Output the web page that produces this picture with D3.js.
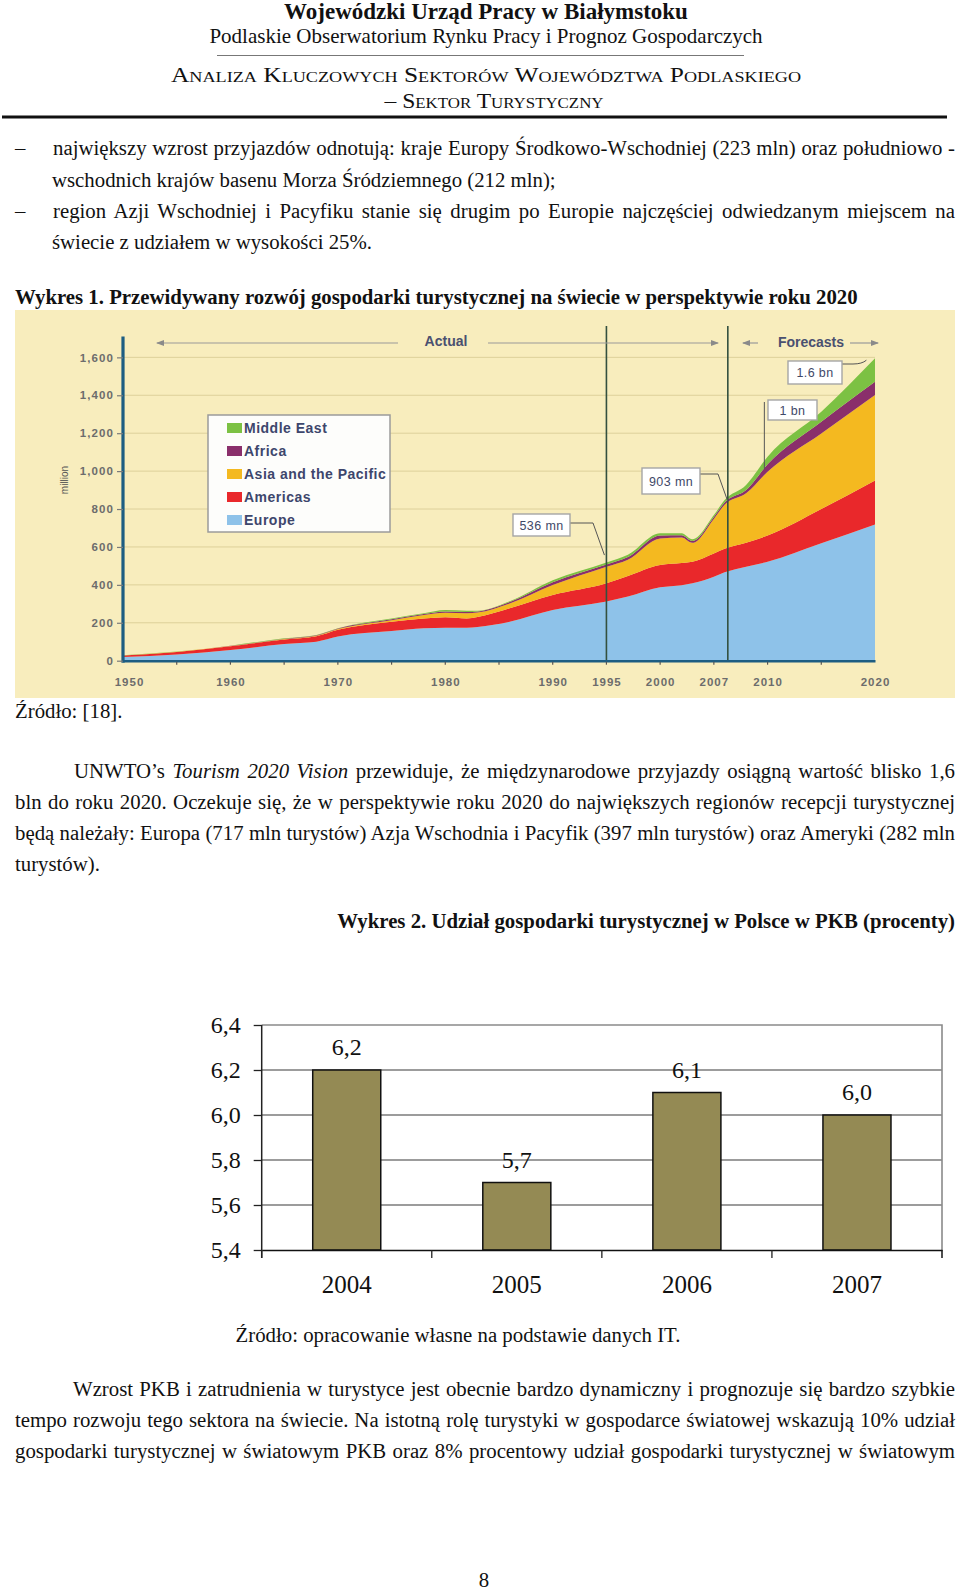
<!DOCTYPE html>
<html>
<head>
<meta charset="utf-8">
<script src="https://cdn.jsdelivr.net/npm/d3@7"></script>
<style>
  body { margin: 0; background: #fff; }
  svg { display: block; }
  .serif { font-family: "Liberation Serif", "Times New Roman", serif; fill: #111; }
  .sans { font-family: "Liberation Sans", Arial, sans-serif; }
</style>
</head>
<body>
<svg id="page" width="960" height="1593"></svg>
<script>
// ---------------- chart 1 data (million arrivals) ----------------
const regions = ["Europe", "Americas", "Asia and the Pacific", "Africa", "Middle East"];
const years       = [1950, 1955, 1960, 1965, 1968, 1970, 1975, 1978, 1980, 1982, 1983, 1986, 1990, 1995, 1997, 2000, 2002, 2003, 2005, 2006, 2008, 2010, 2015, 2020];
const europe      = [19,   33,   56,   88,   100,  127,  156,  171,  174,  174,  178,  206,  267,  312,  338,  387,  398,  408,  443,  466,  496,  522,  619,  718];
const americas    = [8,    13,   20,   24,   29,   36,   50,   52,   55,   49,   52,   70,   79,   96,   109,  118,  117,  114,  123,  124,  126,  138,  181,  232];
const asiaPacific = [0.3,  0.6,  1,    2,    3,    4,    8,    18,   24,   27,   24,   26,   53,   88,   86,   140,  135,  100,  182,  233,  261,  337,  399,  451];
const africa      = [0.5,  0.8,  1.5,  2,    2,    2.5,  4,    5,    7,    7,    6,    8,    15,   12,   14,   16,   12,   10,   10,   12,   17,   39,   62,   71];
const middleEast  = [0.3,  0.6,  1,    2,    2,    2,    4,    4,    7,    7,    4,    4,    10,   10,   12,   11,   10,   8,    10,   12,   27,   40,   52,   123];

const yTicks1 = [0, 200, 400, 600, 800, 1000, 1200, 1400, 1600];
const xTickYears = [1950, 1960, 1970, 1980, 1990, 1995, 2000, 2005, 2010, 2020];
const xTickLabels = ["1950", "1960", "1970", "1980", "1990", "1995", "2000", "2007", "2010", "2020"];
const periodYears = [1995, 2006.3];   // vertical separators

// ---------------- chart 2 data (% of GDP) ----------------
const categories = ["2004", "2005", "2006", "2007"];
const shares = [6.2, 5.7, 6.1, 6.0];
const yTicks2 = [5.4, 5.6, 5.8, 6.0, 6.2, 6.4];

const colors = {
  "Europe": "#8ec2e9",
  "Americas": "#e9282b",
  "Asia and the Pacific": "#f4b920",
  "Africa": "#8a2f6b",
  "Middle East": "#7cc143"
};

const page = d3.select("#page");
const BODY = 20.8;

// helper: one line of body text, optionally justified to a width
function line(parts, x, y, o = {}) {
  const t = page.append("text")
    .attr("class", "serif")
    .attr("x", x).attr("y", y)
    .style("font-size", (o.size || BODY) + "px")
    .style("font-weight", o.bold ? "bold" : null)
    .style("font-variant", o.caps ? "small-caps" : null);
  if (o.anchor) t.attr("text-anchor", o.anchor);
  parts.forEach(p => {
    const s = typeof p === "string" ? { t: p } : p;
    t.append("tspan").text(s.t).style("font-style", s.i ? "italic" : null);
  });
  if (o.width) {
    const natural = t.node().getComputedTextLength();
    const spaces = (t.text().match(/ /g) || []).length;
    t.style("word-spacing", ((o.width - natural) / spaces) + "px");
  }
  if (o.fit) t.attr("textLength", o.fit).attr("lengthAdjust", "spacingAndGlyphs");
  return t;
}

// ---------------- header ----------------
line(["Wojewódzki Urząd Pracy w Białymstoku"], 486, 19, { size: 23, bold: true, anchor: "middle" });
line(["Podlaskie Obserwatorium Rynku Pracy i Prognoz Gospodarczych"], 486, 43, { size: 21, anchor: "middle" });
page.append("line").attr("x1", 217).attr("x2", 744).attr("y1", 55.5).attr("y2", 55.5)
  .attr("stroke", "#777").attr("stroke-width", 1);
line(["Analiza Kluczowych Sektorów Województwa Podlaskiego"], 486, 82, { size: 21, caps: true, anchor: "middle", fit: 630 });
line(["– Sektor Turystyczny"], 494, 108, { size: 21, caps: true, anchor: "middle", fit: 219 });
page.append("line").attr("x1", 2).attr("x2", 947).attr("y1", 117).attr("y2", 117)
  .attr("stroke", "#111").attr("stroke-width", 3);

// ---------------- bullets ----------------
line(["–"], 15, 155);
line(["największy wzrost przyjazdów odnotują: kraje Europy Środkowo-Wschodniej (223 mln) oraz południowo -"], 53, 155, { width: 902 });
line(["wschodnich krajów basenu Morza Śródziemnego (212 mln);"], 52, 187);
line(["–"], 15, 218);
line(["region Azji Wschodniej i Pacyfiku stanie się drugim po Europie najczęściej odwiedzanym miejscem na"], 53, 218, { width: 902 });
line(["świecie z udziałem w wysokości 25%."], 52, 249);

line(["Wykres 1. Przewidywany rozwój gospodarki turystycznej na świecie w perspektywie roku 2020"], 15, 304, { bold: true });

// ---------------- chart 1 ----------------
const c1 = page.append("g");
c1.append("rect").attr("x", 15).attr("y", 310).attr("width", 940).attr("height", 388).attr("fill", "#f8edbd");

const x = d3.scaleLinear().domain([1950, 2020]).range([123, 875]);
const y = d3.scaleLinear().domain([0, 1700]).range([660.7, 338.4]);

// gridlines
c1.append("g").selectAll("line").data(yTicks1.slice(1)).join("line")
  .attr("x1", 123).attr("x2", 875)
  .attr("y1", d => y(d)).attr("y2", d => y(d))
  .attr("stroke", "#ddd09a").attr("stroke-width", 1);

const table = years.map((yr, i) => ({
  year: yr,
  "Europe": europe[i],
  "Americas": americas[i],
  "Asia and the Pacific": asiaPacific[i],
  "Africa": africa[i],
  "Middle East": middleEast[i]
}));
const series = d3.stack().keys(regions)(table);
const area = d3.area()
  .x(d => x(d.data.year))
  .y0(d => y(d[0]))
  .y1(d => y(d[1]))
  .curve(d3.curveMonotoneX);

c1.append("g").selectAll("path").data(series).join("path")
  .attr("d", area)
  .attr("fill", d => colors[d.key]);

// vertical period separators
c1.append("g").selectAll("line").data(periodYears).join("line")
  .attr("x1", d => x(d)).attr("x2", d => x(d))
  .attr("y1", 326).attr("y2", 660)
  .attr("stroke", "#34503f").attr("stroke-width", 1.6);

// y axis
const yAxis = c1.append("g").attr("transform", "translate(123,0)")
  .call(d3.axisLeft(y).tickValues(yTicks1).tickFormat(d3.format(",")).tickSize(6).tickSizeOuter(0).tickPadding(3));
yAxis.select(".domain").attr("stroke", "#1d5d82").attr("stroke-width", 3.2)
  .attr("d", `M0,${y(0) + 2}V${y(1710)}`);
yAxis.selectAll(".tick line").attr("stroke", "#7a7a7a").attr("stroke-width", 1.2);
yAxis.selectAll(".tick text")
  .attr("class", "sans").style("font-size", "11.5px").style("font-weight", "bold")
  .style("letter-spacing", "1.1px").attr("fill", "#6c6c6c");

// x axis
const xAxis = c1.append("g").attr("transform", `translate(0,${y(0)})`)
  .call(d3.axisBottom(x).tickValues(xTickYears).tickFormat((d, i) => xTickLabels[i]).tickSize(0).tickPadding(17).tickSizeOuter(0));
xAxis.select(".domain").attr("stroke", "#1d5d82").attr("stroke-width", 2.6);
xAxis.selectAll(".tick text")
  .attr("class", "sans").style("font-size", "11.5px").style("font-weight", "bold")
  .style("letter-spacing", "1px").attr("fill", "#6c6c6c")
  .attr("dx", (d, i) => i === 0 ? 6 : 0);
xAxis.append("g").selectAll("line").data(d3.range(1955, 2020, 5)).join("line")
  .attr("x1", d => x(d)).attr("x2", d => x(d)).attr("y1", 1).attr("y2", 4)
  .attr("stroke", "#555").attr("stroke-width", 1.2);

c1.append("text").attr("class", "sans")
  .attr("transform", "translate(68,480) rotate(-90)")
  .attr("text-anchor", "middle").style("font-size", "10px").attr("fill", "#555")
  .text("million");

// Actual / Forecasts arrows
const defs = page.append("defs");
defs.append("marker").attr("id", "arr").attr("viewBox", "0 0 8 6")
  .attr("refX", 7).attr("refY", 3).attr("markerWidth", 8).attr("markerHeight", 6)
  .attr("markerUnits", "userSpaceOnUse").attr("orient", "auto-start-reverse")
  .append("path").attr("d", "M0,0L8,3L0,6z").attr("fill", "#8a8a8a");

const arrows = [[157, 398, "start"], [488, 718, "end"], [743, 758, "start"], [850, 878, "end"]];
c1.append("g").selectAll("line").data(arrows).join("line")
  .attr("x1", d => d[0]).attr("x2", d => d[1]).attr("y1", 343).attr("y2", 343)
  .attr("stroke", "#9a9a9a").attr("stroke-width", 1.2)
  .attr("marker-start", d => d[2] === "start" ? "url(#arr)" : null)
  .attr("marker-end", d => d[2] === "end" ? "url(#arr)" : null);
c1.append("text").attr("class", "sans").attr("x", 446).attr("y", 346)
  .attr("text-anchor", "middle").style("font-size", "14px").style("font-weight", "bold")
  .attr("fill", "#4a5070").text("Actual");
c1.append("text").attr("class", "sans").attr("x", 811).attr("y", 347)
  .attr("text-anchor", "middle").style("font-size", "14px").style("font-weight", "bold")
  .attr("fill", "#4a5070").text("Forecasts");

// legend
const leg = c1.append("g");
leg.append("rect").attr("x", 208).attr("y", 415).attr("width", 182).attr("height", 117)
  .attr("fill", "#fdfdfb").attr("stroke", "#9b9b9b").attr("stroke-width", 1.5);
const legItems = regions.slice().reverse();
const li = leg.selectAll("g.item").data(legItems).join("g")
  .attr("transform", (d, i) => `translate(227,${428 + i * 23})`);
li.append("rect").attr("x", 0).attr("y", -5).attr("width", 15).attr("height", 10)
  .attr("fill", d => colors[d]);
li.append("text").attr("class", "sans").attr("x", 17).attr("y", 5)
  .style("font-size", "14px").style("font-weight", "bold").style("letter-spacing", "0.5px")
  .attr("fill", "#3d466c").text(d => d);

// callouts
const callouts = [
  { label: "536 mn", box: [513, 514, 57, 22], path: `M570,523H593L${x(1995) - 2},${y(536) - 4}` },
  { label: "903 mn", box: [642, 468, 58, 26], path: `M700,474H718L${x(2006.3)},${y(840)}` },
  { label: "1 bn", box: [768, 400, 49, 20], path: `M${x(2009.7)},402V${y(1010)}` },
  { label: "1.6 bn", box: [788, 361, 54, 23], path: `M842,364H853Q862,364 ${x(2019.2)},${y(1585)}` }
];
const co = c1.selectAll("g.callout").data(callouts).join("g");
co.append("path").attr("d", d => d.path).attr("fill", "none").attr("stroke", "#555").attr("stroke-width", 1);
co.append("rect").attr("x", d => d.box[0]).attr("y", d => d.box[1])
  .attr("width", d => d.box[2]).attr("height", d => d.box[3])
  .attr("fill", "#fff").attr("stroke", "#a5a5a5").attr("stroke-width", 1.4);
co.append("text").attr("class", "sans")
  .attr("x", d => d.box[0] + d.box[2] / 2).attr("y", d => d.box[1] + d.box[3] / 2 + 4.5)
  .attr("text-anchor", "middle").style("font-size", "12.5px").style("letter-spacing", "0.4px")
  .attr("fill", "#3f4968").text(d => d.label);

line(["Źródło: [18]."], 15, 718);

// ---------------- paragraph ----------------
line(["UNWTO’s ", { t: "Tourism 2020 Vision", i: true }, " przewiduje, że międzynarodowe przyjazdy osiągną wartość blisko 1,6"], 74, 778, { width: 881 });
line(["bln do roku 2020. Oczekuje się, że w perspektywie roku 2020 do największych regionów recepcji turystycznej"], 15, 809, { width: 940 });
line(["będą należały: Europa (717 mln turystów) Azja Wschodnia i Pacyfik (397 mln turystów) oraz Ameryki (282 mln"], 15, 840, { width: 940 });
line(["turystów)."], 15, 871);

line(["Wykres 2. Udział gospodarki turystycznej w Polsce w PKB (procenty)"], 955, 928, { bold: true, anchor: "end" });

// ---------------- chart 2 ----------------
const c2 = page.append("g");
const x2 = d3.scaleBand().domain(categories).range([261.7, 942]).paddingInner(0.6).paddingOuter(0.3);
const y2 = d3.scaleLinear().domain([5.4, 6.4]).range([1250, 1025]);
const comma = v => d3.format(".1f")(v).replace(".", ",");

// gridlines + frame
c2.append("g").selectAll("line").data(yTicks2.slice(1, -1)).join("line")
  .attr("x1", 261.7).attr("x2", 942).attr("y1", d => y2(d)).attr("y2", d => y2(d))
  .attr("stroke", "#3a3a3a").attr("stroke-width", 1.2);
c2.append("path").attr("d", `M261.7,${y2(6.4)}H942V1258`)
  .attr("fill", "none").attr("stroke", "#8a8a8a").attr("stroke-width", 1.6);

c2.append("g").selectAll("rect").data(shares).join("rect")
  .attr("x", (d, i) => x2(categories[i]))
  .attr("y", d => y2(d))
  .attr("width", x2.bandwidth())
  .attr("height", d => y2(5.4) - y2(d))
  .attr("fill", "#948a54").attr("stroke", "#111").attr("stroke-width", 1.5);

c2.append("g").selectAll("text").data(shares).join("text")
  .attr("class", "serif")
  .attr("x", (d, i) => x2(categories[i]) + x2.bandwidth() / 2)
  .attr("y", d => y2(d) - 15)
  .attr("text-anchor", "middle").style("font-size", "24px").attr("fill", "#333")
  .text(comma);

const yAx2 = c2.append("g").attr("transform", "translate(261.7,0)")
  .call(d3.axisLeft(y2).tickValues(yTicks2).tickFormat(comma).tickSize(8).tickSizeOuter(0).tickPadding(13));
yAx2.select(".domain").attr("stroke", "#222").attr("stroke-width", 1.5).attr("d", `M0,${y2(6.4)}V1258`);
yAx2.selectAll(".tick line").attr("stroke", "#222").attr("stroke-width", 1.3);
yAx2.selectAll(".tick text").attr("class", "serif").style("font-size", "24px").attr("fill", "#333");

const xAx2 = c2.append("g").attr("transform", `translate(0,${y2(5.4)})`)
  .call(d3.axisBottom(x2).tickSize(0).tickPadding(25).tickSizeOuter(0));
xAx2.select(".domain").attr("stroke", "#111").attr("stroke-width", 1.5);
xAx2.selectAll(".tick text").attr("class", "serif").style("font-size", "25px").attr("fill", "#333");
xAx2.append("g").selectAll("line").data(d3.range(categories.length + 1)).join("line")
  .attr("x1", i => 261.7 + i * x2.step()).attr("x2", i => 261.7 + i * x2.step())
  .attr("y1", 0).attr("y2", 8).attr("stroke", "#222").attr("stroke-width", 1.3);

line(["Źródło: opracowanie własne na podstawie danych IT."], 458, 1342, { anchor: "middle" });

line(["Wzrost PKB i zatrudnienia w turystyce jest obecnie bardzo dynamiczny i prognozuje się bardzo szybkie"], 73, 1396, { width: 882 });
line(["tempo rozwoju tego sektora na świecie. Na istotną rolę turystyki w gospodarce światowej wskazują 10% udział"], 15, 1427, { width: 940 });
line(["gospodarki turystycznej w światowym PKB oraz 8% procentowy udział gospodarki turystycznej w światowym"], 15, 1458, { width: 940 });

line(["8"], 484, 1587, { anchor: "middle" });
</script>
</body>
</html>
